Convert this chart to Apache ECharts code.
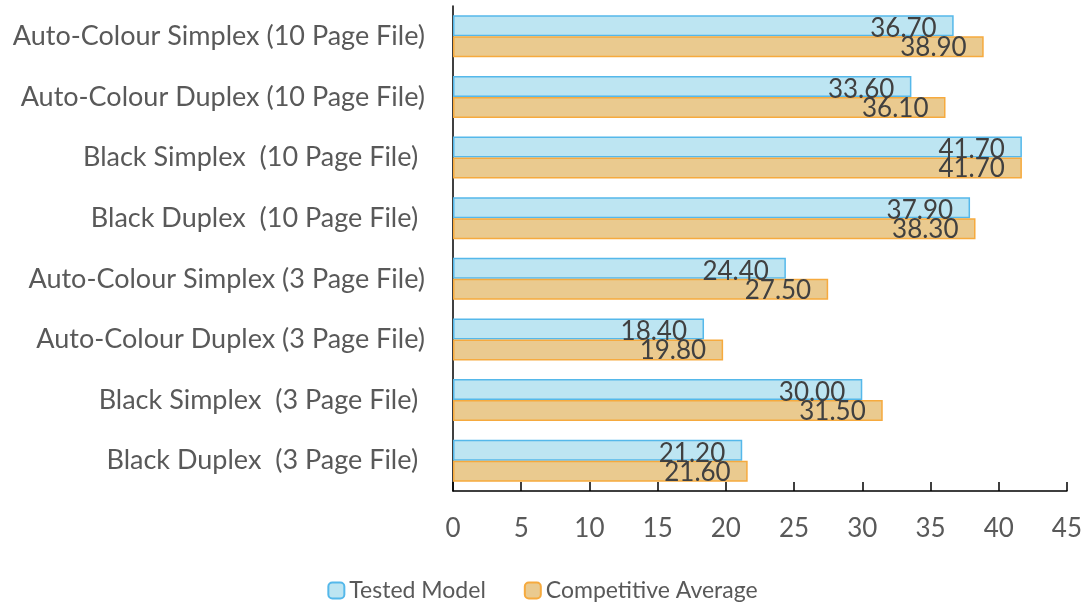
<!DOCTYPE html>
<html>
<head>
<meta charset="utf-8">
<script src="https://cdn.jsdelivr.net/npm/echarts@6/dist/echarts.min.js"></script>
<style>
  html, body { margin: 0; padding: 0; background: #fff; }
  #chart { width: 1085px; height: 604px; }
</style>
</head>
<body>
<div id="chart"></div>
<script>
// categories, top to bottom
var categories = [
  "Auto-Colour Simplex (10 Page File)",
  "Auto-Colour Duplex (10 Page File)",
  "Black Simplex  (10 Page File) ",
  "Black Duplex  (10 Page File) ",
  "Auto-Colour Simplex (3 Page File)",
  "Auto-Colour Duplex (3 Page File)",
  "Black Simplex  (3 Page File) ",
  "Black Duplex  (3 Page File) "
];
var seriesNames = ["Tested Model", "Competitive Average"];
var testedModel = [36.7, 33.6, 41.7, 37.9, 24.4, 18.4, 30.0, 21.2];
var competitiveAvg = [38.9, 36.1, 41.7, 38.3, 27.5, 19.8, 31.5, 21.6];
var xTicks = { min: 0, max: 45, interval: 5 };

var FONT = "Lato";
var chart = echarts.init(document.getElementById("chart"));

function labelCfg(dy) {
  return {
    show: true,
    position: "insideRight",
    distance: 17,
    offset: [0, dy],
    color: "#404040",
    fontFamily: FONT,
    fontSize: 26,
    formatter: function (p) { return p.value.toFixed(2); }
  };
}

chart.setOption({
  backgroundColor: "#ffffff",
  animation: false,
  grid: {
    left: 453,
    right: 13,
    top: 6,
    bottom: 113
  },
  legend: {
    top: 574,
    left: "center",
    itemWidth: 16,
    itemHeight: 16,
    itemGap: 38,
    textStyle: {
      color: "#595959",
      fontFamily: FONT,
      fontSize: 23
    },
    data: seriesNames
  },
  xAxis: {
    type: "value",
    min: xTicks.min,
    max: xTicks.max,
    interval: xTicks.interval,
    axisLine: { show: true, lineStyle: { color: "#000", width: 1.5 } },
    axisTick: { show: true, inside: true, length: 9, lineStyle: { color: "#000", width: 1.5 } },
    splitLine: { show: false },
    axisLabel: {
      color: "#595959",
      fontFamily: FONT,
      fontSize: 26,
      margin: 25
    }
  },
  yAxis: {
    type: "category",
    inverse: true,
    data: categories,
    axisLine: { show: true, lineStyle: { color: "#000", width: 1.5 } },
    axisTick: { show: false },
    axisLabel: {
      color: "#595959",
      fontFamily: FONT,
      fontSize: 27,
      margin: 28
    }
  },
  series: [
    {
      name: seriesNames[0],
      type: "bar",
      barWidth: 21,
      barGap: "0%",
      itemStyle: { color: "#bde5f2", borderColor: "#55b8ea", borderWidth: 1.5 },
      label: labelCfg(3),
      data: testedModel
    },
    {
      name: seriesNames[1],
      type: "bar",
      barWidth: 21,
      barGap: "0%",
      itemStyle: { color: "#eaca8f", borderColor: "#f6aa3e", borderWidth: 1.5 },
      label: labelCfg(1),
      data: competitiveAvg
    }
  ]
});
</script>
</body>
</html>
